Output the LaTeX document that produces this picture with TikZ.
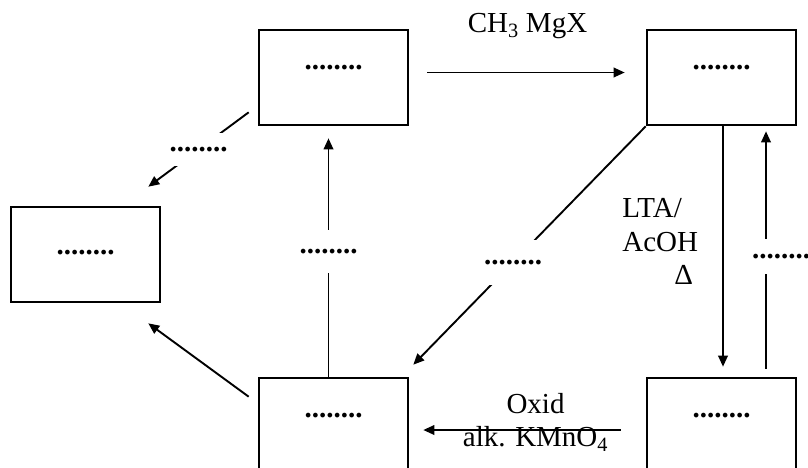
\documentclass[tikz,border=0pt]{standalone}
\usepackage{fontspec}
\setmainfont{Liberation Serif}
\usetikzlibrary{arrows.meta}

\begin{document}
\begin{tikzpicture}[x=1pt, y=-1pt, every node/.style={font=\fontsize{29}{33.5}\selectfont}, >={Triangle[length=11pt, width=9.5pt]}, box/.style={draw, line width=2.6pt, minimum width=149pt, minimum height=95pt, text depth=21pt, font=\fontsize{29}{33.5}\selectfont\bfseries}, gap/.style={fill=white, inner xsep=1pt, font=\fontsize{29}{33.5}\selectfont\bfseries}, rx/.style={->, line width=1.9pt}]
	\path[use as bounding box, clip] (0,0) rectangle (808,467);
	\foreach \n/\x/\y in {c1/333.5/77.5, c2/721.5/77.5, c4/333.5/425.5, c5/721.5/425.5} {\node[box] (\n) at (\x,\y) {........};}
	\node[box, text depth=5pt] (c3) at (85.5,254.5) {........};
	\draw[rx, shorten <=18pt, shorten >=21pt] ([yshift=5pt]c1.east) -- ([yshift=5pt]c2.west) node[midway, yshift=46pt] {CH\textsubscript{3} MgX};
	\draw[rx] ([shift={(-9,-14)}]c1.south west) -- ([shift={(-13,-19)}]c3.north east) node[gap, midway, inner ysep=14pt] {........};
	\draw[rx, shorten >=12pt] ([xshift=-5pt]c4.north) -- ([xshift=-5pt]c1.south) node[gap, midway, inner ysep=19pt] {........};
	\draw[rx] ([shift={(-9,20)}]c4.north west) -- ([shift={(-13,20)}]c3.south east);
	\draw[rx] (c2.south west) -- ([shift={(4,-12)}]c4.north east) node[gap, pos=0.57, inner ysep=20pt] {........};
	\draw[rx, shorten >=10pt] ([xshift=1.5pt]c2.south) -- ([xshift=1.5pt]c5.north) node[pos=0.46, left=24pt, inner sep=0pt, align=left] {LTA/\\AcOH\\\hspace*{52pt}Δ};
	\draw[rx, shorten <=8pt, shorten >=5pt] ([xshift=44.5pt]c5.north) -- ([xshift=44.5pt]c2.south) node[gap, pos=0.48, xshift=15pt, inner ysep=15pt] {........};
	\draw[rx, shorten <=25pt, shorten >=14pt] ([yshift=-4.5pt]c5.west) -- ([yshift=-4.5pt]c4.east) node[midway, xshift=8pt, yshift=7.5pt, inner sep=0pt, align=center] {Oxid\\alk. KMnO\textsubscript{4}};
\end{tikzpicture}
\end{document}
